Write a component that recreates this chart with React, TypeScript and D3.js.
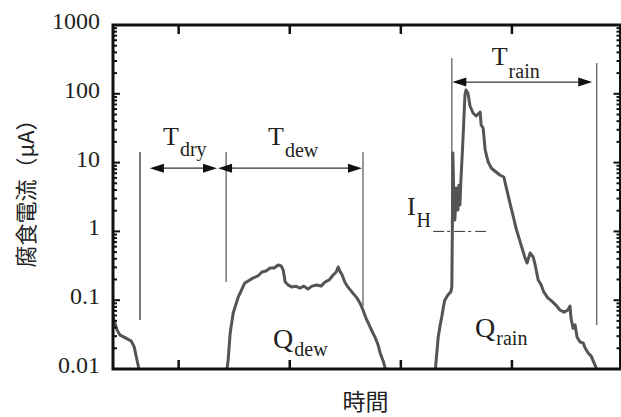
import React from 'react';
import * as d3 from 'd3';

// time axis is unitless (0..100.5), current in µA on a log axis
const startCurve: [number, number][] = [
  [0, 0.057], [0.8, 0.037], [1.4, 0.031], [2.2, 0.029], [3.0, 0.027], [3.6, 0.0255],
  [4.2, 0.021], [4.75, 0.0135], [5.15, 0.01], [5.3, 0.007],
];

const dewCurve: [number, number][] = [
  [22.5, 0.009], [22.8, 0.0135], [23.2, 0.033], [23.8, 0.065], [24.8, 0.111], [26.1, 0.178],
  [27.1, 0.197], [27.7, 0.21], [28.7, 0.225], [29.5, 0.257], [30.3, 0.266], [31.1, 0.294],
  [31.9, 0.294], [32.7, 0.325], [33.3, 0.315], [33.7, 0.275], [34.1, 0.184], [34.7, 0.166],
  [35.4, 0.156], [36.2, 0.16], [37.0, 0.15], [37.8, 0.16], [38.6, 0.145], [39.4, 0.16],
  [40.4, 0.166], [41.2, 0.16], [42.0, 0.184], [42.8, 0.197], [43.6, 0.232], [44.2, 0.257],
  [44.6, 0.304], [45.0, 0.257], [45.3, 0.24], [45.9, 0.184], [46.5, 0.156], [47.3, 0.132],
  [48.3, 0.108], [48.9, 0.091], [49.5, 0.072], [50.1, 0.055], [50.9, 0.041], [51.5, 0.033],
  [51.9, 0.029], [52.5, 0.0223], [52.9, 0.0171], [53.5, 0.0131], [53.9, 0.0103], [54.1, 0.0082],
];

const rainCurve: [number, number][] = [
  [63.8, 0.009], [64.0, 0.0135], [64.4, 0.029], [64.8, 0.044], [65.1, 0.057], [65.5, 0.085],
  [65.7, 0.1], [66.3, 0.119], [66.9, 0.132], [67.1, 0.156], [67.2, 1.05], [67.3, 13.8],
  [67.5, 2.86], [67.7, 1.47], [68.0, 4.27], [68.3, 2.05], [68.5, 4.7], [68.7, 2.42],
  [68.9, 5.59], [69.3, 21.3], [69.7, 96], [69.9, 113.6], [70.3, 102], [70.7, 66.5],
  [71.3, 52.6], [71.9, 47.6], [72.3, 50.9], [72.7, 54.4], [72.9, 35.2], [73.3, 31.8],
  [73.7, 15.2], [74.3, 10.2], [74.9, 8.35], [75.6, 7.55], [76.6, 6.6], [77.4, 6.17],
  [78.0, 3.99], [78.6, 2.59], [79.2, 1.73], [79.8, 1.12], [80.4, 0.8], [81.0, 0.574],
  [81.6, 0.41], [82.0, 0.347], [82.6, 0.485], [83.2, 0.425], [83.6, 0.325], [84.2, 0.197],
  [84.8, 0.166], [85.3, 0.132], [86.1, 0.108], [86.9, 0.097], [87.7, 0.085], [88.5, 0.072],
  [89.3, 0.067], [90.1, 0.072], [90.5, 0.082], [90.7, 0.055], [91.1, 0.039], [91.5, 0.044],
  [91.9, 0.029], [92.5, 0.0247], [93.1, 0.024], [93.5, 0.0202], [94.1, 0.0171], [94.7, 0.0154],
  [95.2, 0.0126], [95.8, 0.01], [96.0, 0.008],
];

const xTicks = [13, 35, 57, 79];
const yMajor = [0.01, 0.1, 1, 10, 100, 1000];
const yLabels = ['0.01', '0.1', '1', '10', '100', '1000'];

// boundary lines: x, from value, to value
const markLines: [number, number, number][] = [
  [5.35, 14.3, 0.0515],
  [22.4, 14.3, 0.184],
  [49.5, 14.3, 0.08],
  [67.1, 331, 0.14],
  [95.8, 280, 0.0437],
];

// double arrows: from x, to x, level
const spans: [number, number, number][] = [
  [7.3, 20.6, 8.3],
  [20.8, 49.3, 8.3],
  [67.2, 94.9, 148],
];

// label, subscript, x, value at baseline, sizes, subscript drop
const notes: { main: string; sub: string; x: number; v: number; size: number; drop: number }[] = [
  { main: 'T', sub: 'dry', x: 9.9, v: 18, size: 26, drop: 11 },
  { main: 'T', sub: 'dew', x: 30.7, v: 18, size: 26, drop: 12 },
  { main: 'T', sub: 'rain', x: 75.0, v: 262, size: 26, drop: 13 },
  { main: 'I', sub: 'H', x: 58.2, v: 1.73, size: 26, drop: 12 },
  { main: 'Q', sub: 'dew', x: 31.7, v: 0.0202, size: 28, drop: 8 },
  { main: 'Q', sub: 'rain', x: 71.7, v: 0.0292, size: 28, drop: 8 },
];

const ihLine = { x1: 63.4, x2: 74.1, v: 1 };

const W = 621;
const H = 417;
const left = 113;
const right = 620.5;
const top = 25;
const bottom = 369;

const serif = '"Liberation Serif", "Times New Roman", serif';
const sans = '"Noto Sans CJK JP", "Noto Sans", sans-serif';

const App: React.FC = () => {
  const x = d3.scaleLinear().domain([0, 100.5]).range([left, right]);
  const y = d3.scaleLog().domain([0.01, 1000]).range([bottom, top]);

  const line = d3.line<[number, number]>()
    .x(d => x(d[0]))
    .y(d => y(d[1]));

  const minor: number[] = [];
  for (let e = -2; e < 3; e++) {
    for (let k = 2; k < 10; k++) minor.push(k * Math.pow(10, e));
  }

  const head = (tipX: number, yy: number, dir: number) => {
    const len = 14;
    const hw = 4.5;
    return `${tipX},${yy} ${tipX + dir * len},${yy - hw} ${tipX + dir * len},${yy + hw}`;
  };

  return (
    <svg width={W} height={H} style={{ position: 'absolute', left: 0, top: 0, background: '#fff' }}>
      <defs>
        <clipPath id="plot">
          <rect x={left} y={top} width={right - left} height={bottom - top} />
        </clipPath>
      </defs>

      {/* data */}
      <g clipPath="url(#plot)" fill="none" stroke="#545454" strokeWidth={3} strokeLinejoin="round">
        {[startCurve, dewCurve, rainCurve].map((c, i) => (
          <path key={i} d={line(c) || ''} />
        ))}
      </g>

      {/* boundary lines */}
      {markLines.map(([mx, v1, v2], i) => (
        <line key={i} x1={x(mx)} x2={x(mx)} y1={y(v1)} y2={y(v2)}
          stroke={i === 0 ? '#222' : '#555'} strokeWidth={1.2} />
      ))}

      {/* arrows */}
      {spans.map(([a, b, v], i) => {
        const yy = y(v);
        return (
          <g key={i}>
            <line x1={x(a) + 8} x2={x(b) - 8} y1={yy} y2={yy} stroke="#333" strokeWidth={1.2} />
            <polygon points={head(x(a), yy, 1)} fill="#111" />
            <polygon points={head(x(b), yy, -1)} fill="#111" />
          </g>
        );
      })}

      <line x1={x(ihLine.x1)} x2={x(ihLine.x2)} y1={y(ihLine.v)} y2={y(ihLine.v)}
        stroke="#333" strokeWidth={1} strokeDasharray="11 3 3 4" />

      {/* labels */}
      {notes.map((n, i) => (
        <text key={i} x={x(n.x)} y={y(n.v)} fontFamily={serif} fill="#231f20">
          <tspan fontSize={n.size}>{n.main}</tspan>
          <tspan fontSize={20} dx={1} dy={n.drop}>{n.sub}</tspan>
        </text>
      ))}

      {/* ticks */}
      <g stroke="#111" strokeWidth={2}>
        {yMajor.map(v => (
          <g key={v}>
            <line x1={left} x2={left + 7} y1={y(v)} y2={y(v)} />
            <line x1={right} x2={right - 7} y1={y(v)} y2={y(v)} />
          </g>
        ))}
        {minor.map(v => (
          <g key={v}>
            <line x1={left} x2={left + 4} y1={y(v)} y2={y(v)} />
            <line x1={right} x2={right - 4} y1={y(v)} y2={y(v)} />
          </g>
        ))}
        {xTicks.map(t => (
          <g key={t}>
            <line x1={x(t)} x2={x(t)} y1={bottom} y2={bottom - 9} strokeWidth={2.5} />
            <line x1={x(t)} x2={x(t)} y1={top} y2={top + 9} strokeWidth={2.5} />
          </g>
        ))}
      </g>

      <rect x={left} y={top} width={right - left} height={bottom - top}
        fill="none" stroke="#111" strokeWidth={3} />

      {yMajor.map((v, i) => (
        <text key={v} x={100} y={y(v) + 4} textAnchor="end" fontFamily={serif}
          fontSize={24} fill="#231f20">{yLabels[i]}</text>
      ))}

      <text x={(left + 618) / 2} y={410} textAnchor="middle"
        fontFamily={sans} fontSize={23} fill="#222">時間</text>
      <text transform="translate(24,188) rotate(-90)" textAnchor="middle" dominantBaseline="central"
        fontFamily={sans} fontSize={22} fill="#222">腐食電流（μA）</text>
    </svg>
  );
};

export default App;
